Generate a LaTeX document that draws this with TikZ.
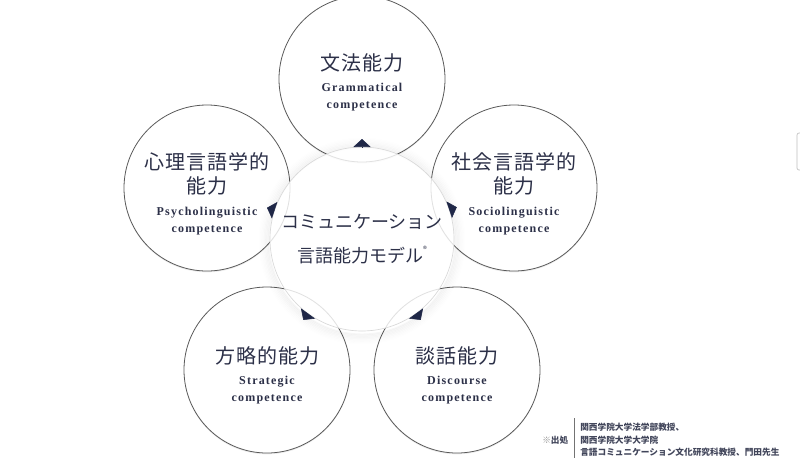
\documentclass[tikz,border=0pt]{standalone}
\usepackage{fontspec}
\usepackage{xcolor}
\usepackage{tikz}
\usetikzlibrary{arrows.meta,calc,shadows}
\setmainfont{Liberation Serif}
\newfontfamily\jpfont[LetterSpace=5]{Noto Sans CJK JP}
\newfontfamily\jpmodel{Noto Sans CJK JP}
\newfontfamily\enfont[LetterSpace=10]{Liberation Serif}
\definecolor{navy}{HTML}{1F2747}
\definecolor{ink}{HTML}{2C3048}
\tikzset{>=Latex}

\begin{document}
\begin{tikzpicture}[x=0.75pt,y=-0.75pt,
roundnode/.style={circle, draw=black!65, line width=0.6pt, fill=white, minimum size=124.5pt, drop shadow={shadow xshift=0pt, shadow yshift=-1pt, opacity=0.15}},
modelnode/.style={circle, draw=black!15, line width=0.5pt, fill=white, fill opacity=0.82, minimum size=138pt},
glowring/.style={black, line width=1.2pt},
jpnode/.style={align=center, text=ink, inner sep=0pt, font=\jpfont\fontsize{15}{18}\selectfont},
ennode/.style={align=center, text=ink, inner sep=0pt, font=\enfont\bfseries\fontsize{9}{12.3}\selectfont},
modeltext/.style={align=center, text=ink, inner sep=0pt, font=\jpmodel\fontsize{13.5}{25}\selectfont},
notenode/.style={align=left, text=ink!90, inner sep=0pt, font=\jpmodel\bfseries\fontsize{6.5}{9.4}\selectfont},
cue/.style={-{Triangle[width=13pt,length=6pt]}, navy, line width=0.4pt},
]
\useasboundingbox (0,0) rectangle (800,458);

%Circles
\node[roundnode](Grammatical) at (362,79){};
\node[roundnode](Psycholinguistic) at (207,188){};
\node[roundnode](Sociolinguistic) at (514,188){};
\node[roundnode](Strategic) at (267,370){};
\node[roundnode](Discourse) at (457,370){};

%Texts
\node[jpnode](Grammatical jp) at ($(Grammatical)+(0,-16)$){文法能力};
\node[ennode](Grammatical en) at ($(Grammatical)+(0,18)$){Grammatical\\competence};
\node[jpnode](Psycholinguistic jp) at ($(Psycholinguistic)+(0,-14)$){心理言語学的\\能力};
\node[ennode](Psycholinguistic en) at ($(Psycholinguistic)+(0,33)$){Psycholinguistic\\competence};
\node[jpnode](Sociolinguistic jp) at ($(Sociolinguistic)+(0,-14)$){社会言語学的\\能力};
\node[ennode](Sociolinguistic en) at ($(Sociolinguistic)+(0,33)$){Sociolinguistic\\competence};
\node[jpnode](Strategic jp) at ($(Strategic)+(0,-14)$){方略的能力};
\node[ennode](Strategic en) at ($(Strategic)+(0,20)$){Strategic\\competence};
\node[jpnode](Discourse jp) at ($(Discourse)+(0,-14)$){談話能力};
\node[ennode](Discourse en) at ($(Discourse)+(0,20)$){Discourse\\competence};

%Centre
\coordinate (Model centre) at (362,239);
\foreach \k in {1,...,8}
  \draw[glowring, opacity={0.04-0.0045*\k}] ($(Model centre)+(0,2)$) circle [radius={69pt+\k*1pt}];
\node[modelnode](Model) at (Model centre){};
\node[modeltext](Model text) at (Model centre){コミュニケーション\\言語能力モデル\raisebox{0.55em}{\fontsize{6}{6}\selectfont ®}};

%Arrow tips
\foreach \n in {Grammatical,Psycholinguistic,Sociolinguistic,Strategic,Discourse}
  \draw[cue] ($(Model)!69pt!(\n)$) -- ($(Model)!75pt!(\n)$);

%Source
\node[notenode, anchor=west](Source) at (542,440){\textcolor{black!45}{※}出処};
\node[notenode, anchor=west](Source text) at (580,440){関西学院大学法学部教授、\\関西学院大学大学院\\言語コミュニケーション文化研究科教授、門田先生};
\draw[black!55, line width=0.6pt] (574,418) -- (574,458);

%Edge mark
\draw[black!25, line width=0.5pt, rounded corners=1.5pt] (804,133) -- (797,133) -- (797,170) -- (804,170);
\end{tikzpicture}
\end{document}
